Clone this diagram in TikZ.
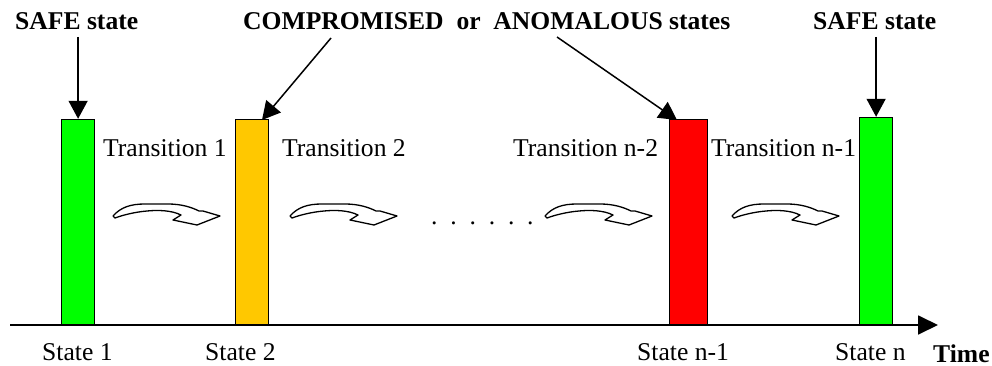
\documentclass[tikz,border=0pt]{standalone}
\usepackage{fontspec}
\setmainfont{Liberation Serif}
\usetikzlibrary{arrows.meta,positioning}
\tikzset{
  bar/.style   = {draw, line width=1.2pt, minimum width=33pt, minimum height=205pt,
                  inner sep=0pt, anchor=south west},
  lbl/.style   = {font=\fontsize{25.6}{30}\selectfont, inner sep=0pt, anchor=base west},
  blbl/.style  = {lbl, font=\fontsize{25.6}{30}\selectfont\bfseries},
  ptr/.style   = {-{Triangle[length=18pt,width=19pt]}, line width=1.5pt},
  axis/.style  = {-{Triangle[length=20pt,width=19pt]}, line width=1.8pt},
  turn/.pic    = {\draw[line width=1.3pt,line join=round,fill=white] (0,1) .. controls (8,-8) and (18,-11) .. (32,-11)
                  -- (55,-11) .. controls (68,-11) and (78,-8) .. (86,-4) -- (90,-4) -- (107,1) -- (84,10) -- (60,5) -- (68,0)
                  .. controls (58,-5) and (44,-5) .. (34,-4) .. controls (22,-3) and (10,0) .. (2,3) -- cycle;},
}
\definecolor{safe}{HTML}{00FF00}
\definecolor{warn}{HTML}{FFC800}
\definecolor{bad}{HTML}{FF0000}
\begin{document}
\begin{tikzpicture}[x=1pt,y=-1pt]
  \useasboundingbox (0,0) rectangle (992,366);
  % the states
  \node[bar,fill=safe] (s1) at (61,325) {};
  \node[bar,fill=warn] (s2) at (235,325) {};
  \node[bar,fill=bad,minimum width=38pt] (s3) at (669,325) {};
  \node[bar,fill=safe,minimum height=207pt] (s4) at (859,325) {};
  % time axis
  \coordinate (t0) at (10,325);
  \coordinate (t1) at (938,325);
  \draw[axis] (t0) -- (t1);
  \foreach \x/\n/\t in {42/l1/{State 1},205/l2/{State 2},637/l3/{State n-1},835/l4/{State n}}
    {\node[lbl] (\n) at (\x,360) {\t};}
  \node[blbl] (time) at (933,362) {Time};
  % labels on top
  \node[blbl] (safeA) at (15,30) {SAFE state};
  \node[blbl] (comp) at (243,30) {COMPROMISED\ \ or\ \ ANOMALOUS states};
  \node[blbl] (safeB) at (813,30) {SAFE state};
  \coordinate (c2) at (331,38);
  \coordinate (c3) at (557,37);
  \coordinate (e2) at (262,120);
  \coordinate (e3) at (677,120);
  \draw[ptr] (s1.north |- 0,37) -- (s1.north);
  \draw[ptr] (c2) -- (e2);
  \draw[ptr] (c3) -- (e3);
  \draw[ptr] (s4.north |- 0,37) -- (s4.north);
  % transitions
  \foreach \x/\n/\t in {103/tr1/{Transition 1},282/tr2/{Transition 2},513/tr3/{Transition n-2},711/tr4/{Transition n-1}}
    {\node[lbl] (\n) at (\x,157) {\t};}
  \foreach \x in {113,290,545,732}
    {\pic at (\x,215) {turn};}
  \node[lbl] (dots) at (431,224) {.\ \ .\ \ .\ \ .\ \ .\ \ .};
\end{tikzpicture}
\end{document}
